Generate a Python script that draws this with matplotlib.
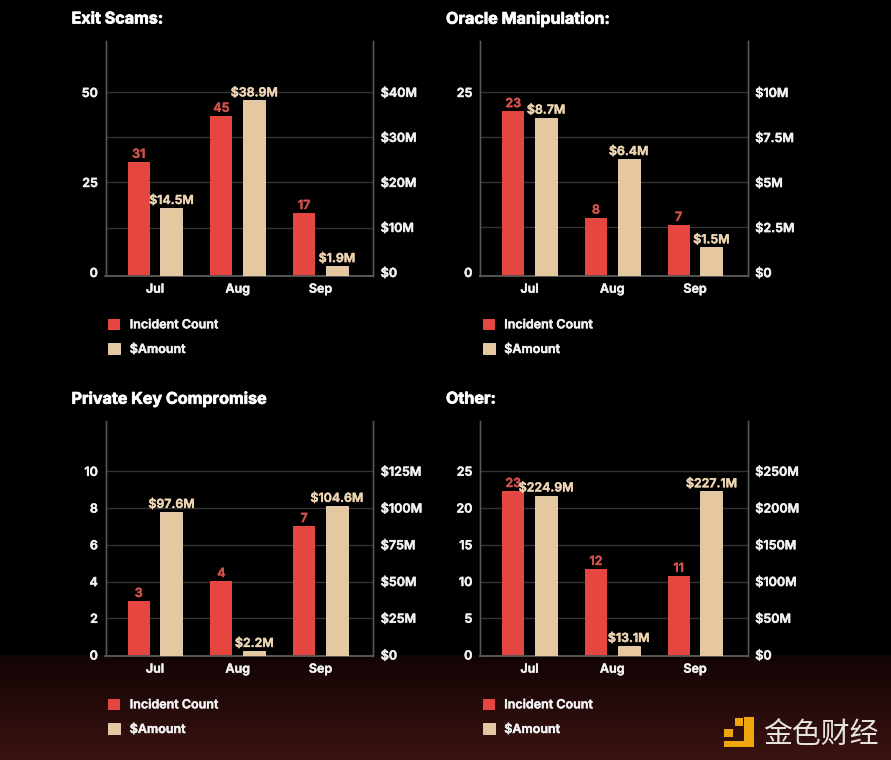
import numpy as np
import matplotlib
matplotlib.use("Agg")
import matplotlib.pyplot as plt
import matplotlib.patheffects as pe
from matplotlib.patches import Rectangle

plt.rcParams['font.family'] = ['Inter', 'DejaVu Sans']

W, H = 891, 760
RED = '#E5463F'
TAN = '#E5C7A0'

months = ['Jul', 'Aug', 'Sep']

titles = ['Exit Scams:', 'Oracle Manipulation:', 'Private Key Compromise', 'Other:']

# bar heights
exit_counts = [30.7, 43.5, 16.5]
exit_amounts = [14.3, 38.2, 1.4]
oracle_counts = [22.4, 7.6, 6.6]
oracle_amounts = [8.6, 6.3, 1.4]
key_counts = [2.94, 4.03, 7.02]
key_amounts = [97.3, 2.7, 101.4]
other_counts = [22.3, 11.7, 10.75]
other_amounts = [217, 12.2, 222.7]

# printed labels
exit_count_labels = ['31', '45', '17']
exit_amount_labels = ['$14.5M', '$38.9M', '$1.9M']
oracle_count_labels = ['23', '8', '7']
oracle_amount_labels = ['$8.7M', '$6.4M', '$1.5M']
key_count_labels = ['3', '4', '7']
key_amount_labels = ['$97.6M', '$2.2M', '$104.6M']
other_count_labels = ['23', '12', '11']
other_amount_labels = ['$224.9M', '$13.1M', '$227.1M']

exit_left_ticks = [0, 12.5, 25, 37.5, 50]
exit_left_labels = ['0', '', '25', '', '50']
exit_right_ticks = [0, 10, 20, 30, 40]
exit_right_labels = ['$0', '$10M', '$20M', '$30M', '$40M']
oracle_left_ticks = [0, 6.25, 12.5, 18.75, 25]
oracle_left_labels = ['0', '', '', '', '25']
oracle_right_ticks = [0, 2.5, 5, 7.5, 10]
oracle_right_labels = ['$0', '$2.5M', '$5M', '$7.5M', '$10M']
key_left_ticks = [0, 2, 4, 6, 8, 10]
key_left_labels = ['0', '2', '4', '6', '8', '10']
key_right_ticks = [0, 25, 50, 75, 100, 125]
key_right_labels = ['$0', '$25M', '$50M', '$75M', '$100M', '$125M']
other_left_ticks = [0, 5, 10, 15, 20, 25]
other_left_labels = ['0', '5', '10', '15', '20', '25']
other_right_ticks = [0, 50, 100, 150, 200, 250]
other_right_labels = ['$0', '$50M', '$100M', '$150M', '$200M', '$250M']

panels = [
    (105.5, 41, 276, (-0.97, 64.3), (-0.78, 51.4), exit_counts, exit_amounts,
     exit_count_labels, exit_amount_labels, exit_left_ticks, exit_left_labels,
     exit_right_ticks, exit_right_labels),
    (480, 41, 276, (-0.49, 32.15), (-0.19, 12.86), oracle_counts, oracle_amounts,
     oracle_count_labels, oracle_amount_labels, oracle_left_ticks, oracle_left_labels,
     oracle_right_ticks, oracle_right_labels),
    (105.5, 421, 656, (-0.05, 12.74), (-0.68, 159.2), key_counts, key_amounts,
     key_count_labels, key_amount_labels, key_left_ticks, key_left_labels,
     key_right_ticks, key_right_labels),
    (480, 421, 656, (-0.136, 31.84), (-1.36, 318.4), other_counts, other_amounts,
     other_count_labels, other_amount_labels, other_left_ticks, other_left_labels,
     other_right_ticks, other_right_labels),
]


def thicken(txt, width=0.35):
    # Inter only comes out semibold here, the reference is a bit heavier
    txt.set_path_effects([pe.withStroke(linewidth=width, foreground=txt.get_color())])


fig = plt.figure(figsize=(W / 100, H / 100), dpi=100, facecolor='black')

# background, black with a dark red band at the bottom
bg = fig.add_axes([0, 0, 1, 1], zorder=-1)
grad = np.zeros((H, 1, 3))
t = np.clip((np.arange(H) - 655) / (H - 655), 0, 1)
grad[:, 0, 0] = np.where(np.arange(H) >= 655, 0.07 + 0.16 * t, 0)
grad[:, 0, 1] = np.where(np.arange(H) >= 655, 0.015 + 0.06 * t, 0)
grad[:, 0, 2] = np.where(np.arange(H) >= 655, 0.015 + 0.055 * t, 0)
bg.imshow(grad, aspect='auto', extent=[0, W, H, 0])
bg.set_xlim(0, W)
bg.set_ylim(H, 0)
bg.axis('off')

# logo
LOGO = '#F0A60E'
for x0, y0, w, h in [(724, 729, 8.7, 8.3), (735.3, 718, 7.4, 8), (744, 717.3, 9.7, 30),
                     (724, 740.7, 29.7, 6.6)]:
    bg.add_patch(Rectangle((x0, y0), w, h, color=LOGO, lw=0))
bg.text(820.5, 736, '金色财经', color='#E6E2E0', fontsize=20.8, ha='center', va='center',
        family=['Noto Sans CJK SC', 'DejaVu Sans'], weight='light')

for i, p in enumerate(panels):
    left, top, bottom, ylim1, ylim2, counts, amounts, clabs, alabs, lt, ll, rt, rl = p
    right = left + 267.6
    ax = fig.add_axes([left / W, 1 - bottom / H, (right - left) / W, (bottom - top) / H])
    ax.patch.set_alpha(0)
    ax2 = ax.twinx()
    ax2.patch.set_alpha(0)

    x = np.arange(3)
    off, bw = 0.198, 0.266
    b1 = ax.bar(x - off, np.array(counts) - ylim1[0], bw, bottom=ylim1[0], color=RED,
                zorder=3, label='Incident Count')
    b2 = ax2.bar(x + off, np.array(amounts) - ylim2[0], bw, bottom=ylim2[0], color=TAN,
                 edgecolor='#F1DCC0', lw=0.6, zorder=3, label='$Amount')

    ax.set_ylim(*ylim1)
    ax2.set_ylim(*ylim2)
    ax.set_xlim(-0.60, 2.636)

    ax.set_yticks(lt)
    ax.set_yticklabels(ll)
    ax2.set_yticks(rt)
    ax2.set_yticklabels(rl)
    ax.set_xticks(x)
    ax.set_xticklabels(months)
    ax.tick_params(axis='y', length=0, pad=5.5, labelsize=9, labelcolor='#F2F2F2')
    ax2.tick_params(axis='y', length=0, pad=5.5, labelsize=9, labelcolor='#F2F2F2')
    ax.tick_params(axis='x', length=0, pad=5.5, labelsize=9, labelcolor='#F2F2F2')
    for lab in ax.get_xticklabels() + ax.get_yticklabels() + ax2.get_yticklabels():
        lab.set_fontweight('semibold')
        thicken(lab)

    for tick in lt[1:]:
        ax.axhline(tick, color='#333333', lw=1, zorder=1)

    for a in (ax, ax2):
        a.spines['top'].set_visible(False)
        a.spines['left'].set_color('#555555')
        a.spines['right'].set_color('#555555')
        a.spines['bottom'].set_color('#555555')
        a.spines['left'].set_linewidth(1)
        a.spines['right'].set_linewidth(1)
        a.spines['bottom'].set_linewidth(1.3)

    for xi, v, s in zip(x, counts, clabs):
        thicken(ax.annotate(s, (xi - off, v), xytext=(0, 0.8), textcoords='offset points',
                            ha='center', va='bottom', color='#D0524C', fontsize=9,
                            fontweight='semibold', zorder=5))
    for xi, v, s in zip(x, amounts, alabs):
        thicken(ax2.annotate(s, (xi + off, v), xytext=(0, 0.8), textcoords='offset points',
                             ha='center', va='bottom', color='#EED5B2', fontsize=8.9,
                             fontweight='semibold', zorder=5))

    thicken(fig.text((left - 34) / W, 1 - (top - 22) / H, titles[i], color='white',
                     fontsize=11.6, fontweight='bold', ha='left', va='center'), 0.5)

    leg = ax2.legend([b1, b2], ['Incident Count', '$Amount'], loc='upper left',
                     bbox_to_anchor=((left + 2.5) / W, 1 - (bottom + 42.5) / H),
                     bbox_transform=fig.transFigure, frameon=False,
                     labelcolor='#F2F2F2', handlelength=0.98, handleheight=0.98,
                     handletextpad=0.76, labelspacing=0.95, borderpad=0, borderaxespad=0,
                     prop={'size': 9, 'weight': 'semibold'})
    for lab in leg.get_texts():
        thicken(lab)

fig.savefig('out.png', dpi=100, facecolor='black')
